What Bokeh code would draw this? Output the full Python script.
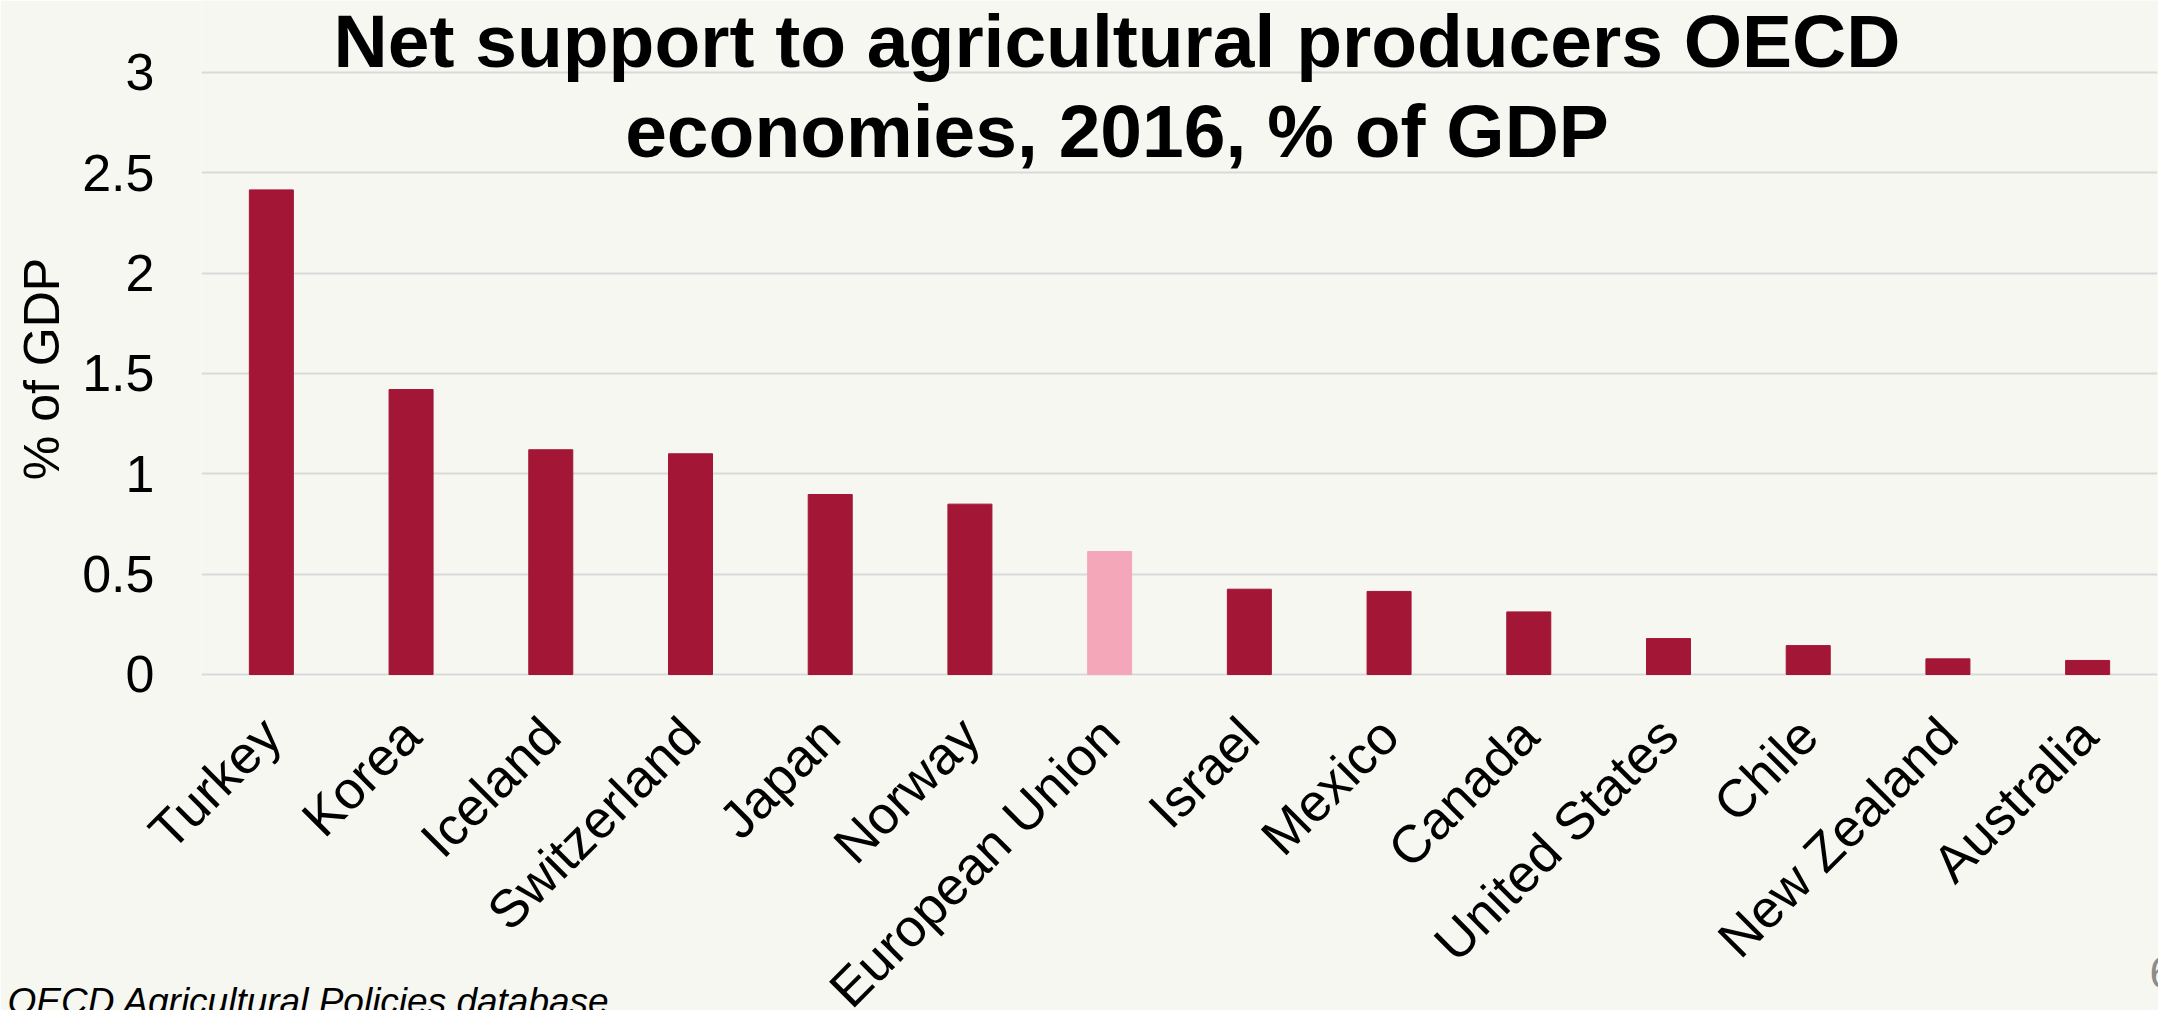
from math import pi
from bokeh.plotting import figure
from bokeh.models import (ColumnDataSource, FixedTicker, Label, Range1d, FactorRange,
                          LinearAxis, Title)
from bokeh.embed import file_html
from bokeh.resources import INLINE

# ---- data ----
countries = ["Turkey", "Korea", "Iceland", "Switzerland", "Japan", "Norway",
             "European Union", "Israel", "Mexico", "Canada", "United States",
             "Chile", "New Zealand", "Australia"]
support_pct_gdp = [2.415, 1.42, 1.12, 1.10, 0.897, 0.849, 0.613, 0.425, 0.414,
                   0.312, 0.179, 0.144, 0.078, 0.070]
y_ticks = [0, 0.5, 1, 1.5, 2, 2.5, 3]
y_tick_labels = ["0", "0.5", "1", "1.5", "2", "2.5", "3"]
title_lines = ["Net support to agricultural producers OECD", "economies, 2016, % of GDP"]
y_axis_title = "% of GDP"
source_note = "OECD Agricultural Policies database"
page_number = "6"

BAR = "#A31636"
EU = "#F4A7B9"
BG = "#F7F7F2"
FONT = "Liberation Sans"

# ---- layout constants (canvas pixels) ----
W, H = 2158, 1010
FRAME_LEFT = 201
FRAME_RIGHT = 2157
FRAME_BOTTOM = 676
ZERO_Y = 674.0                 # canvas row of value 0
PX_PER_UNIT = 602.0 / 3        # pixels per 1 % of GDP


def yv(canvas_y):
    """canvas pixel row -> value on the y scale"""
    return round((ZERO_Y - canvas_y) / PX_PER_UNIT, 5)


colors = [EU if c == "European Union" else BAR for c in countries]
src = ColumnDataSource(dict(country=countries, value=support_pct_gdp, color=colors))

p = figure(width=W, height=H, output_backend="svg", toolbar_location=None,
           x_range=FactorRange(*countries, range_padding=0),
           y_range=Range1d(yv(FRAME_BOTTOM), yv(0)),
           min_border_left=FRAME_LEFT, min_border_right=W - FRAME_RIGHT,
           min_border_top=0, min_border_bottom=H - FRAME_BOTTOM)
p.background_fill_color = BG
p.border_fill_color = BG
p.outline_line_color = None

p.vbar(x="country", top="value", width=0.315, color="color", source=src)

# ---- x axis with rotated category labels ----
xa = p.xaxis[0]
xa.axis_line_color = None
xa.major_tick_line_color = None
xa.minor_tick_line_color = None
xa.major_tick_out = 0
xa.major_tick_in = 0
xa.major_label_orientation = pi / 4
xa.major_label_standoff = 50
xa.major_label_text_font = FONT
xa.major_label_text_font_size = "53px"
xa.major_label_text_color = "black"
# blank axis title with negative standoff keeps the bottom panel compact
xa.axis_label = " "
xa.axis_label_text_font_size = "10px"
xa.axis_label_standoff = -113
p.xgrid.grid_line_color = None

# ---- y axis ----
ya = p.yaxis[0]
ya.ticker = FixedTicker(ticks=y_ticks)
ya.major_label_overrides = {t: l for t, l in zip(y_ticks, y_tick_labels)}
ya.axis_line_color = None
ya.major_tick_line_color = None
ya.minor_tick_line_color = None
ya.major_label_standoff = 41
ya.major_label_text_font = FONT
ya.major_label_text_font_size = "52px"
ya.major_label_text_color = "black"
p.ygrid.grid_line_color = "#D9D9D9"
p.ygrid.grid_line_width = 2

# y-axis title, centred beside the 0..3 value range
ytitle_pos = yv(368.5)
ytitle_axis = LinearAxis(ticker=FixedTicker(ticks=[ytitle_pos]),
                         major_label_overrides={ytitle_pos: y_axis_title},
                         major_label_orientation="vertical", major_label_standoff=9,
                         major_tick_out=0, major_tick_in=0,
                         axis_line_color=None, major_tick_line_color=None,
                         minor_tick_line_color=None,
                         major_label_text_font=FONT, major_label_text_font_size="50px",
                         major_label_text_color="black")
p.add_layout(ytitle_axis, "left")

# ---- chart title (inside the plotting area, above the bars) ----
for i, line in enumerate(title_lines):
    p.add_layout(Label(x=915.5, y=yv(41 + 90 * i), x_units="screen",
                       text=line, text_align="center", text_baseline="alphabetic",
                       text_font=FONT, text_font_size="75px", text_font_style="bold",
                       text_color="black"))

# ---- page number and source note at the bottom ----
p.add_layout(Title(text=page_number, align="right", offset=-16.5, standoff=27.4,
                   vertical_align="top", text_font=FONT, text_font_size="44px",
                   text_font_style="normal", text_color="#8C8C8C"), "below")
p.add_layout(Title(text=source_note, align="left", offset=-194, standoff=-45.8,
                   vertical_align="top", text_font=FONT, text_font_size="37px",
                   text_font_style="italic", text_color="black"), "below")

open("out.html", "w").write(file_html(p, INLINE))
